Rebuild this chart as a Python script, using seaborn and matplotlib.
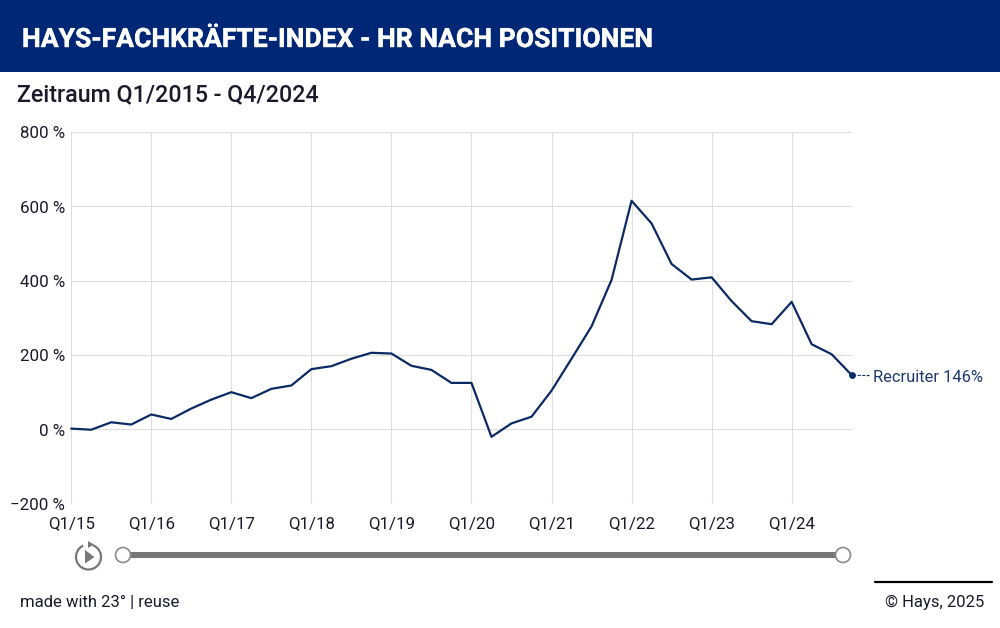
#!/usr/bin/python
# -*- coding: utf-8 -*-

import matplotlib
matplotlib.use('Agg')
import matplotlib.pyplot as plt
import matplotlib.patheffects as pe
import matplotlib.transforms as mtrans
from matplotlib.patches import Arc, Circle, Polygon, Rectangle
import pandas as pd
import seaborn as sns

# data
years = [15, 16, 17, 18, 19, 20, 21, 22, 23, 24]
quarters = ['Q%d/%d' % (q, y) for y in years for q in (1, 2, 3, 4)]
recruiter = [2, -1, 19, 13, 40, 28, 56, 80, 100, 84, 109, 118, 162, 170, 190,
             206, 204, 171, 160, 125, 125, -20, 16, 34, 104, 190, 277, 402,
             615, 554, 445, 403, 409, 345, 291, 283, 343, 229, 202, 146]
y_ticks = [-200, 0, 200, 400, 600, 800]
y_labels = ['\u2212200 %', '0 %', '200 %', '400 %', '600 %', '800 %']
title = 'HAYS-FACHKR\u00c4FTE-INDEX - HR NACH POSITIONEN'
subtitle = 'Zeitraum Q1/2015 - Q4/2024'

NAVY = '#002776'
LINE = '#0b2a63'
GRID = '#dedede'
TEXT = '#1a1a2a'

sns.set_theme(style='white')
plt.rcParams['font.family'] = ['Roboto', 'DejaVu Sans']

W, H = 1000, 628
fig = plt.figure(figsize=(W / 100, H / 100), dpi=100)

# overlay in pixel coordinates for header, slider and footer
bg = fig.add_axes([0, 0, 1, 1])
bg.set_xlim(0, W)
bg.set_ylim(H, 0)
bg.axis('off')

# plot area
left, right, top, bottom = 71.2, 851.7, 132, 503.7
ax = fig.add_axes([left / W, 1 - bottom / H, (right - left) / W, (bottom - top) / H])

df = pd.DataFrame({'quarter': range(len(quarters)), 'value': recruiter})
sns.lineplot(data=df, x='quarter', y='value', color=LINE, linewidth=1.6, ax=ax,
             clip_on=False, zorder=3)
sns.scatterplot(data=df.tail(1), x='quarter', y='value', color=LINE, s=24,
                linewidth=0, ax=ax, clip_on=False, zorder=4)

ax.set_xlim(0, len(quarters) - 1)
ax.set_ylim(-200, 800)
ax.set_xlabel('')
ax.set_ylabel('')
ax.set_xticks(range(0, len(quarters), 4))
ax.set_xticklabels(quarters[::4])
ax.set_yticks(y_ticks)
ax.set_yticklabels(y_labels)
ax.grid(True, color=GRID, linewidth=0.8)
ax.set_axisbelow(True)
for s in ax.spines.values():
    s.set_visible(False)
ax.tick_params(axis='x', length=5, width=0.8, color=GRID, labelsize=12.2,
               labelcolor=TEXT, pad=3.7)
ax.tick_params(axis='y', length=0, labelsize=12.2, labelcolor=TEXT, pad=4.5)
for lab in ax.get_yticklabels():
    lab.set_verticalalignment('top')
    lab.set_transform(lab.get_transform() + mtrans.ScaledTranslation(0, 4 / 72, fig.dpi_scale_trans))

ax.annotate('Recruiter 146%', xy=(len(quarters) - 1, recruiter[-1]),
            xytext=(15, -1.8), textcoords='offset points', va='center',
            fontsize=11.9, color='#1f3a70', annotation_clip=False,
            arrowprops=dict(arrowstyle='-', color=LINE, linewidth=0.8,
                            linestyle=(0, (2, 2)), shrinkA=0, shrinkB=2))

# header band
bg.add_patch(Rectangle((0, 0), W, 72, color=NAVY, linewidth=0))
bg.text(22, 47, title, color='white', fontsize=19.1, fontweight='bold', va='baseline',
        path_effects=[pe.withStroke(linewidth=0.3, foreground='white')])
bg.text(17, 101, subtitle, color=TEXT, fontsize=16.75, fontweight='medium', va='baseline')

# time slider and play button
bg.add_patch(Rectangle((123, 551.5), 720, 6, color='#777777', linewidth=0))
for cx in (123, 843):
    bg.add_patch(Circle((cx, 555), 7.5, facecolor='white', edgecolor='#8a8a8a', linewidth=1.2, zorder=3))
bg.add_patch(Arc((88.5, 557), 25, 25, theta1=-70, theta2=245, color='#777777', linewidth=1.6))
bg.add_patch(Polygon([(85, 550), (85, 563.5), (94.5, 557)], color='#777777', linewidth=0))
bg.add_patch(Polygon([(88, 541), (94, 544.5), (88, 548)], color='#777777', linewidth=0))

# footer
bg.text(20, 607, 'made with 23\u00b0 | reuse', color=TEXT, fontsize=12, va='baseline')
bg.text(984, 607, '\u00a9 Hays, 2025', color=TEXT, fontsize=12, va='baseline', ha='right')
bg.plot([875, 992], [581.5, 581.5], color='#000000', linewidth=1.6)

fig.savefig('out.png', dpi=100)
